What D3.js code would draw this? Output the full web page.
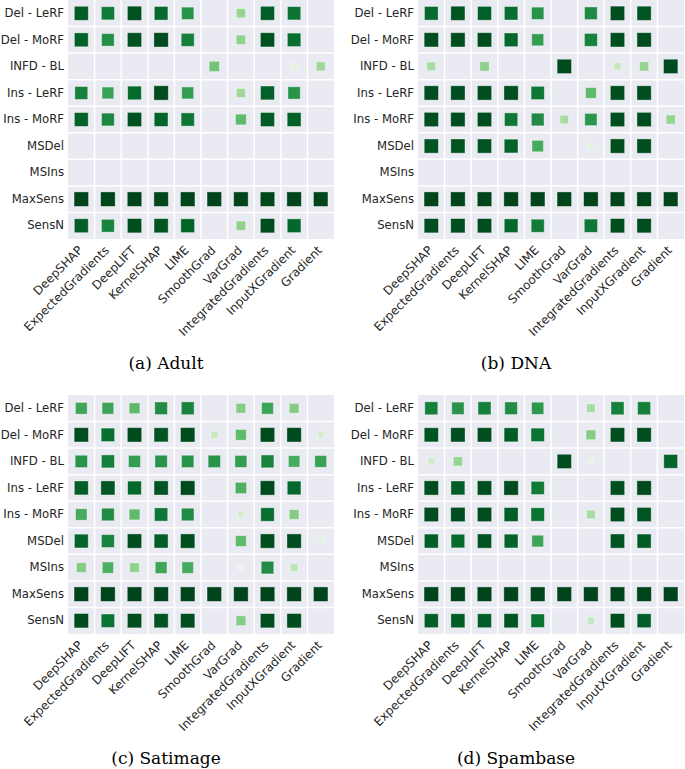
<!DOCTYPE html>
<html>
<head>
<meta charset="utf-8">
<script src="https://cdn.jsdelivr.net/npm/d3@7"></script>
<style>
  body { margin: 0; background: #fff; }
  svg { display: block; }
</style>
</head>
<body>
<div id="chart"></div>
<script>
const methods = ["DeepSHAP", "ExpectedGradients", "DeepLIFT", "KernelSHAP", "LIME",
  "SmoothGrad", "VarGrad", "IntegratedGradients", "InputXGradient", "Gradient"];
const metrics = ["Del - LeRF", "Del - MoRF", "INFD - BL", "Ins - LeRF", "Ins - MoRF",
  "MSDel", "MSIns", "MaxSens", "SensN"];

// one row per metric, one value per method (null = no mark)
const adult = [
  [0.93, 0.82, 0.96, 0.88, 0.72, null, 0.40, 0.92, 0.84, null],
  [0.91, 0.74, 0.96, 0.98, 0.80, null, 0.42, 0.96, 0.86, null],
  [null, null, null, null, null, 0.50, null, null, 0.15, 0.38],
  [0.79, 0.66, 0.88, 0.98, 0.68, null, 0.38, 0.91, 0.72, null],
  [0.91, 0.77, 0.96, 0.90, 0.83, null, 0.55, 0.93, 0.91, null],
  [null, null, null, null, null, null, null, null, null, null],
  [null, null, null, null, null, null, null, null, null, null],
  [1.00, 1.00, 1.00, 0.99, 1.00, 1.00, 1.00, 0.99, 1.00, 1.00],
  [0.92, 0.78, 0.97, 0.95, 0.90, null, 0.42, 0.97, 0.89, null]
];
const dna = [
  [0.88, 0.95, 0.91, 0.86, 0.72, null, 0.76, 0.97, 0.95, null],
  [0.97, 0.97, 0.97, 0.89, 0.68, null, 0.79, 0.97, 0.97, null],
  [0.35, null, 0.42, null, null, 0.98, null, 0.25, 0.40, 0.98],
  [0.97, 0.97, 0.97, 0.97, 0.83, null, 0.55, 0.97, 0.97, null],
  [0.97, 0.97, 0.97, 0.83, 0.76, 0.35, 0.71, 0.97, 0.97, 0.40],
  [0.95, 0.95, 0.95, 0.90, 0.62, null, 0.15, 0.97, 0.97, null],
  [null, null, null, null, null, null, null, null, null, null],
  [1.00, 1.00, 1.00, 1.00, 1.00, 1.00, 1.00, 1.00, 1.00, 1.00],
  [0.97, 0.97, 0.97, 0.89, 0.81, null, 0.83, 0.97, 0.97, null]
];
const satimage = [
  [0.65, 0.65, 0.55, 0.75, 0.78, null, 0.45, 0.65, 0.45, null],
  [0.97, 0.86, 0.98, 0.95, 0.98, 0.25, 0.55, 0.98, 0.98, 0.20],
  [0.72, 0.80, 0.68, 0.72, 0.72, 0.72, 0.68, 0.78, 0.62, 0.66],
  [0.92, 0.94, 0.89, 0.95, 0.98, null, 0.60, 0.98, 0.89, null],
  [0.62, 0.75, 0.55, 0.83, 0.75, null, 0.20, 0.86, 0.45, null],
  [0.90, 0.78, 0.97, 0.92, 0.97, null, 0.55, 0.97, 0.97, 0.15],
  [0.45, 0.60, 0.42, 0.65, 0.62, null, 0.10, 0.75, 0.28, null],
  [1.00, 1.00, 1.00, 1.00, 1.00, 1.00, 1.00, 1.00, 1.00, 1.00],
  [0.98, 0.85, 0.97, 0.95, 0.97, null, 0.45, 0.97, 0.98, null]
];
const spambase = [
  [0.80, 0.72, 0.80, 0.75, 0.70, null, 0.35, 0.80, 0.80, null],
  [0.95, 0.97, 0.97, 0.93, 0.85, null, 0.45, 0.97, 0.97, null],
  [0.22, 0.40, null, null, null, 0.97, 0.12, null, null, 0.90],
  [0.97, 0.92, 0.97, 0.98, 0.82, null, null, 0.97, 0.98, null],
  [0.97, 0.97, 0.97, 0.92, 0.85, null, 0.35, 0.97, 0.95, null],
  [0.92, 0.88, 0.95, 0.90, 0.65, null, null, 0.95, 0.93, null],
  [null, null, null, null, null, null, null, null, null, null],
  [1.00, 1.00, 1.00, 1.00, 1.00, 1.00, 1.00, 1.00, 1.00, 1.00],
  [0.92, 0.93, 0.92, 0.95, 0.85, null, 0.25, 0.97, 0.92, null]
];

const panels = [
  { caption: "(a) Adult", data: adult, x: 68, y: 0 },
  { caption: "(b) DNA", data: dna, x: 418, y: 0 },
  { caption: "(c) Satimage", data: satimage, x: 68, y: 395 },
  { caption: "(d) Spambase", data: spambase, x: 418, y: 395 }
];

const width = 685;
const height = 769;
const gridW = 266;
const gridH = 239;

const svg = d3.select("#chart")
  .append("svg")
  .attr("width", width)
  .attr("height", height);

const x = d3.scaleBand().domain(methods).range([0, gridW]);
const y = d3.scaleBand().domain(metrics).range([0, gridH]);
const size = d3.scaleSqrt().domain([0, 1]).range([0, 14.5]);
const color = v => d3.interpolateGreens(v);

panels.forEach(p => {
  const g = svg.append("g").attr("transform", `translate(${p.x},${p.y})`);

  g.append("rect")
    .attr("width", gridW)
    .attr("height", gridH)
    .attr("fill", "#eaeaf2");

  // white lines between cells
  g.selectAll(".vline")
    .data(methods.slice(1))
    .join("line")
    .attr("x1", d => x(d)).attr("x2", d => x(d))
    .attr("y1", 0).attr("y2", gridH)
    .attr("stroke", "#fff").attr("stroke-width", 1.5);

  g.selectAll(".hline")
    .data(metrics.slice(1))
    .join("line")
    .attr("y1", d => y(d)).attr("y2", d => y(d))
    .attr("x1", 0).attr("x2", gridW)
    .attr("stroke", "#fff").attr("stroke-width", 1.5);

  const cells = [];
  p.data.forEach((row, i) => row.forEach((v, j) => {
    if (v !== null) cells.push({ metric: metrics[i], method: methods[j], v });
  }));

  g.selectAll(".cell")
    .data(cells)
    .join("rect")
    .attr("x", d => x(d.method) + x.bandwidth() / 2 - size(d.v) / 2)
    .attr("y", d => y(d.metric) + y.bandwidth() / 2 - size(d.v) / 2)
    .attr("width", d => size(d.v))
    .attr("height", d => size(d.v))
    .attr("fill", d => color(d.v))
    .attr("stroke", "#ffffff")
    .attr("stroke-opacity", 0.45)
    .attr("stroke-width", 0.8);

  // y labels
  const yAxis = g.append("g")
    .call(d3.axisLeft(y).tickSize(0).tickPadding(4));
  yAxis.select(".domain").remove();
  yAxis.selectAll("text")
    .attr("font-family", "DejaVu Sans")
    .attr("font-size", 11.7)
    .attr("fill", "#262626");

  // x labels
  const xAxis = g.append("g")
    .attr("transform", `translate(0,${gridH})`)
    .call(d3.axisBottom(x).tickSize(0).tickPadding(0));
  xAxis.select(".domain").remove();
  xAxis.selectAll("text")
    .attr("font-family", "DejaVu Sans")
    .attr("font-size", 12)
    .attr("fill", "#262626")
    .attr("text-anchor", "end")
    .attr("dy", null)
    .attr("y", 0)
    .attr("transform", "translate(2,12) rotate(-45)");

  svg.append("text")
    .attr("x", p.x + 98)
    .attr("y", p.y + 369)
    .attr("text-anchor", "middle")
    .attr("font-family", "DejaVu Serif")
    .attr("font-size", 17)
    .attr("fill", "#000")
    .text(p.caption);
});
</script>
</body>
</html>
